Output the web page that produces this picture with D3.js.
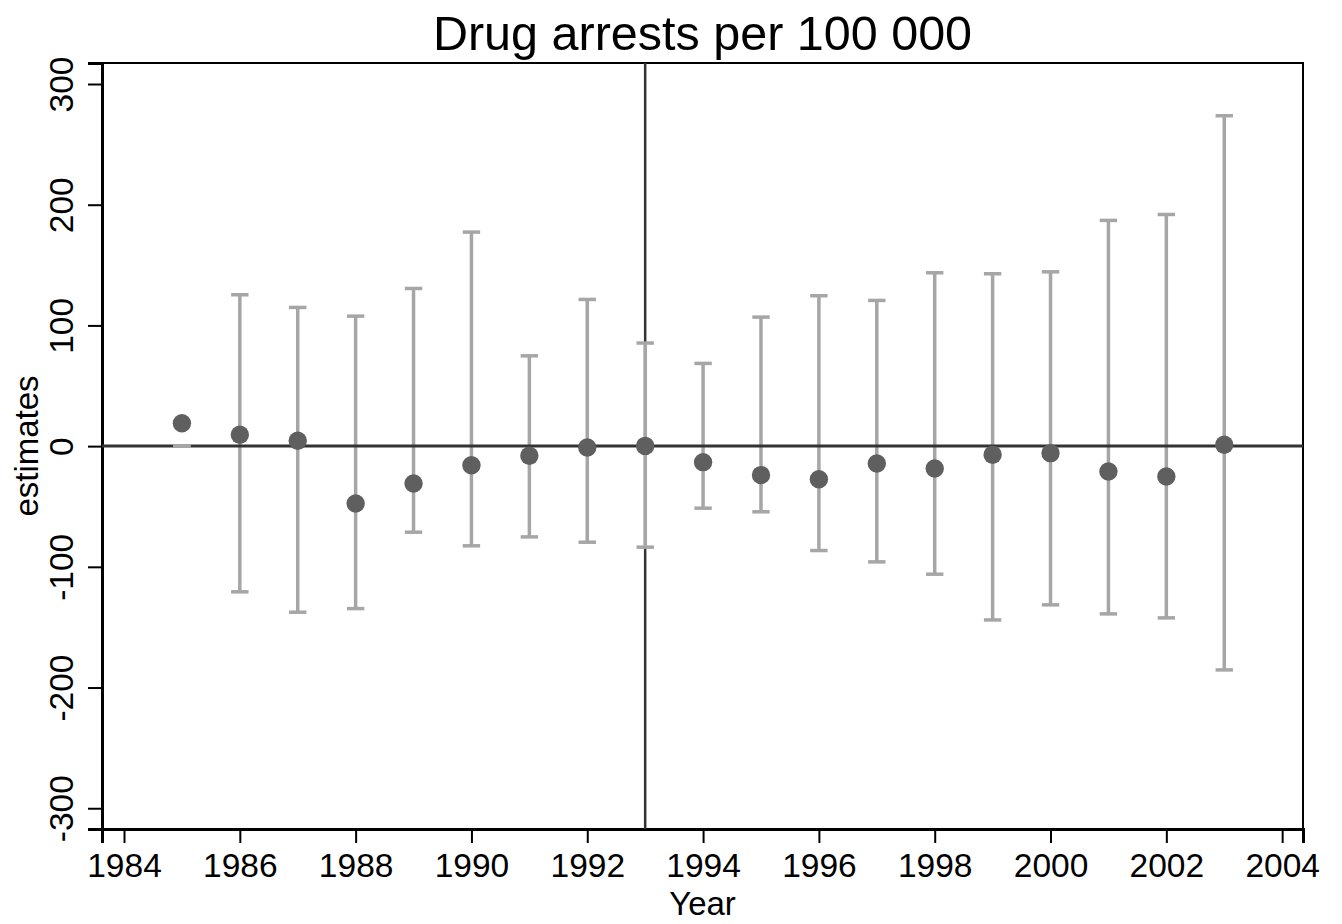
<!DOCTYPE html>
<html>
<head>
<meta charset="utf-8">
<script src="https://cdn.jsdelivr.net/npm/d3@7"></script>
<style>
  html, body { margin: 0; padding: 0; background: #fff; }
  svg text { font-family: "Liberation Sans", Arial, Helvetica, sans-serif; fill: #000; }
</style>
</head>
<body>
<svg id="chart" width="1342" height="924"></svg>
<script>
// Event-study estimates with confidence intervals, by year
const years     = [1985, 1986, 1987, 1988, 1989, 1990, 1991, 1992, 1993, 1994,
                   1995, 1996, 1997, 1998, 1999, 2000, 2001, 2002, 2003];
const estimates = [19, 9.4, 4.4, -47.5, -31, -15.8, -8, -1.1, 0.2, -13.3,
                   -24, -27.4, -14.4, -18.5, -7.2, -5.8, -21, -25.2, 1.1];
const ciLower   = [0, -120.7, -137.6, -134.6, -71.3, -82.6, -75.2, -79.6, -83.7, -51.4,
                   -54.4, -86.5, -95.9, -106.1, -144, -131.5, -139, -142.3, -185.4];
const ciUpper   = [0, 125.4, 114.9, 107.7, 130.6, 177.3, 74.8, 121.5, 85.4, 68.5,
                   106.9, 124.6, 120.7, 143.6, 142.8, 144.4, 187, 191.9, 273.7];
const xTicks    = [1984, 1986, 1988, 1990, 1992, 1994, 1996, 1998, 2000, 2002, 2004];
const yTicks    = [-300, -200, -100, 0, 100, 200, 300];
const eventYear = 1993;
const titleText = "Drug arrests per 100 000";

const rows = years.map((y, i) => ({ year: y, est: estimates[i], lo: ciLower[i], hi: ciUpper[i] }));

const svg = d3.select("#chart");
const plot = { left: 102, right: 1303, top: 63, bottom: 829 };

const x = d3.scaleLinear().domain([1983.62, 2004.36]).range([plot.left, plot.right]);
const y = d3.scaleLinear().domain([-317.2, 317.4]).range([plot.bottom, plot.top]);

// plain hyphen-minus for negative tick labels
const fmt = d => String(d);

// plot frame
svg.append("rect")
  .attr("x", plot.left).attr("y", plot.top)
  .attr("width", plot.right - plot.left).attr("height", plot.bottom - plot.top)
  .attr("fill", "#fff").attr("stroke", "#000").attr("stroke-width", 2);

// axes
const xAxis = svg.append("g")
  .attr("transform", `translate(0,${plot.bottom})`)
  .call(d3.axisBottom(x).tickValues(xTicks).tickFormat(fmt).tickSize(14).tickPadding(9));
const yAxis = svg.append("g")
  .attr("transform", `translate(${plot.left},0)`)
  .call(d3.axisLeft(y).tickValues(yTicks).tickFormat(fmt).tickSize(14).tickPadding(0));

[xAxis, yAxis].forEach(g => {
  g.select(".domain").attr("stroke", "#000").attr("stroke-width", 3);
  g.selectAll(".tick line").attr("stroke", "#000").attr("stroke-width", 2);
  g.selectAll(".tick text").style("font-size", "33.5px").attr("fill", "#000");
});
xAxis.selectAll(".tick text").attr("dy", null).attr("y", 48);
yAxis.selectAll(".tick text")
  .attr("x", null).attr("dy", null).attr("text-anchor", "middle")
  .attr("transform", `translate(${73 - plot.left},0) rotate(-90)`);

// reference line at the event year
svg.append("line")
  .attr("x1", x(eventYear)).attr("x2", x(eventYear))
  .attr("y1", plot.top).attr("y2", plot.bottom)
  .attr("stroke", "#333").attr("stroke-width", 2.5);

// confidence interval spines
const ciColor = "#a6a6a6";
svg.append("g").attr("stroke", ciColor).attr("stroke-width", 3.5)
  .selectAll("line").data(rows).join("line")
  .attr("x1", d => x(d.year)).attr("x2", d => x(d.year))
  .attr("y1", d => y(d.lo)).attr("y2", d => y(d.hi));

// zero line
svg.append("line")
  .attr("x1", plot.left).attr("x2", plot.right)
  .attr("y1", y(0)).attr("y2", y(0))
  .attr("stroke", "#333").attr("stroke-width", 3);

// confidence interval caps
const capHalf = 8.7;
const caps = svg.append("g").attr("stroke", ciColor).attr("stroke-width", 3.5);
["lo", "hi"].forEach(k => {
  caps.selectAll(`line.cap-${k}`).data(rows).join("line").attr("class", `cap-${k}`)
    .attr("x1", d => x(d.year) - capHalf).attr("x2", d => x(d.year) + capHalf)
    .attr("y1", d => y(d[k])).attr("y2", d => y(d[k]));
});

// point estimates
svg.append("g").selectAll("circle").data(rows).join("circle")
  .attr("cx", d => x(d.year)).attr("cy", d => y(d.est))
  .attr("r", 9.2).attr("fill", "#5f5f5f");

// titles
svg.append("text")
  .attr("x", (plot.left + plot.right) / 2).attr("y", 50)
  .attr("text-anchor", "middle").style("font-size", "48.5px")
  .text(titleText);
svg.append("text")
  .attr("x", (plot.left + plot.right) / 2).attr("y", 915)
  .attr("text-anchor", "middle").style("font-size", "33px")
  .text("Year");
svg.append("text")
  .attr("transform", `translate(38,${(plot.top + plot.bottom) / 2}) rotate(-90)`)
  .attr("text-anchor", "middle").style("font-size", "33px")
  .text("estimates");
</script>
</body>
</html>
